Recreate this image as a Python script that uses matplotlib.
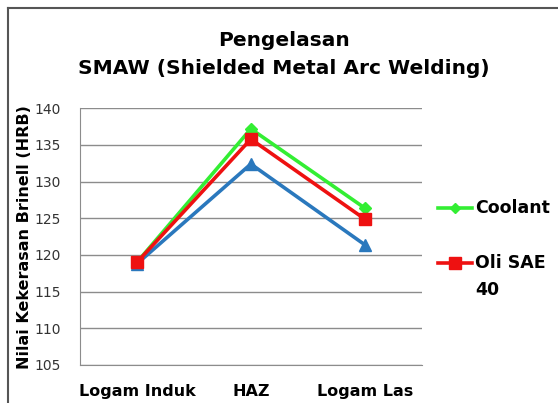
import matplotlib
matplotlib.use("Agg")
import matplotlib.pyplot as plt
from matplotlib.lines import Line2D

categories = ["Logam Induk", "HAZ", "Logam Las"]
coolant = [119.0, 137.2, 126.4]
oli_sae40 = [119.0, 135.8, 124.9]
air = [118.8, 132.4, 121.4]
yticks = [105, 110, 115, 120, 125, 130, 135, 140]

W, H = 558, 403
fig = plt.figure(figsize=(W / 100, H / 100), dpi=100)
ax = fig.add_axes([80 / W, 1 - 365 / H, (421.7 - 80) / W, (365 - 108.3) / H])

x = list(range(len(categories)))
ax.plot(x, air, color="#2a78bd", lw=2.6, marker="^", ms=9, zorder=3)
ax.plot(x, coolant, color="#33ee33", lw=2.6, marker="D", ms=6, zorder=4)
ax.plot(x, oli_sae40, color="#ee1111", lw=2.6, marker="s", ms=8, zorder=5)

ax.set_xlim(-0.5, 2.5)
ax.set_ylim(105, 140)
ax.set_yticks(yticks)
ax.set_yticklabels([str(v) for v in yticks], fontsize=10, color="#333333")
ax.set_xticks(x)
ax.set_xticklabels(categories, fontsize=11.5, fontweight="bold")
ax.tick_params(axis="both", length=0)
ax.tick_params(axis="x", pad=14)
ax.tick_params(axis="y", pad=14)
ax.yaxis.grid(True, color="#8c8c8c", lw=1)
ax.set_axisbelow(True)
for s in ["top", "right"]:
    ax.spines[s].set_visible(False)
ax.spines["left"].set_color("#8c8c8c")
ax.spines["bottom"].set_color("#8c8c8c")

fig.text(25 / W, 1 - 237 / H, "Nilai Kekerasan Brinell (HRB)", rotation=90,
         ha="center", va="center", fontsize=11.5, fontweight="bold")

fig.text(284 / W, 1 - 40 / H, "Pengelasan", ha="center", va="center",
         fontsize=14.5, fontweight="bold")
fig.text(284 / W, 1 - 68 / H, "SMAW (Shielded Metal Arc Welding)", ha="center",
         va="center", fontsize=14.5, fontweight="bold")

# legend (manual)
lx0, lx1 = 438 / W, 472 / W
for yy, col, mk, ms in [(208, "#33ee33", "D", 5), (263, "#ee1111", "s", 8)]:
    fy = 1 - yy / H
    fig.add_artist(Line2D([lx0, lx1], [fy, fy], color=col, lw=2.6,
                          transform=fig.transFigure))
    fig.add_artist(Line2D([(lx0 + lx1) / 2], [fy], color=col, marker=mk, ms=ms,
                          transform=fig.transFigure))
fig.text(475 / W, 1 - 208 / H, "Coolant", ha="left", va="center",
         fontsize=12.5, fontweight="bold")
fig.text(475 / W, 1 - 263 / H, "Oli SAE", ha="left", va="center",
         fontsize=12.5, fontweight="bold")
fig.text(475 / W, 1 - 290 / H, "40", ha="left", va="center",
         fontsize=12.5, fontweight="bold")

# chart border (left and top)
fig.add_artist(Line2D([8 / W, 8 / W], [0, 1 - 8 / H], color="#555555", lw=1.5,
                      transform=fig.transFigure))
fig.add_artist(Line2D([8 / W, 1], [1 - 8 / H, 1 - 8 / H], color="#555555", lw=1.5,
                      transform=fig.transFigure))

fig.savefig("out.png", dpi=100)
